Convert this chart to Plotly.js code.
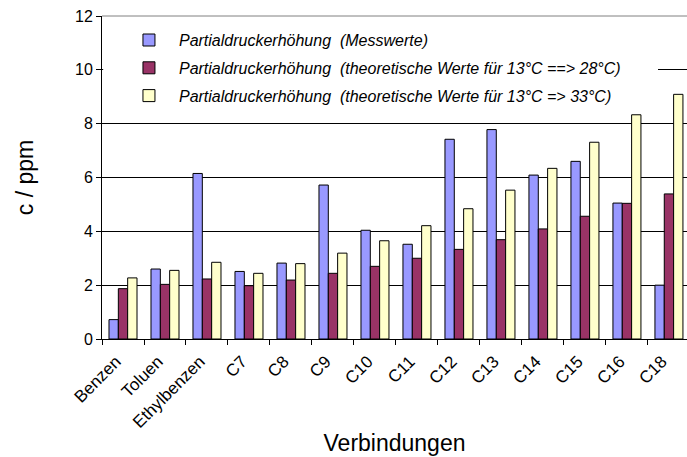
<!DOCTYPE html>
<html><head><meta charset="utf-8">
<script src="https://cdn.plot.ly/plotly-3.0.1.min.js"></script>
<style>body{margin:0;background:#fff}#c{width:687px;height:457px}</style>
</head><body><div id="c"></div>
<script>
const categories = ["Benzen","Toluen","Ethylbenzen","C7","C8","C9","C10","C11","C12","C13","C14","C15","C16","C18"];
const messwerte  = [0.72,2.60,6.15,2.51,2.82,5.72,4.04,3.52,7.42,7.78,6.09,6.60,5.05,2.00];
const theor28    = [1.87,2.03,2.23,1.98,2.19,2.44,2.70,3.00,3.33,3.69,4.09,4.56,5.04,5.39];
const theor33    = [2.27,2.55,2.85,2.44,2.80,3.19,3.65,4.21,4.84,5.53,6.34,7.31,8.33,9.09];
const names = [
  "Partialdruckerhöhung\u00a0 (Messwerte)",
  "Partialdruckerhöhung\u00a0 (theoretische Werte für 13°C ==> 28°C)",
  "Partialdruckerhöhung\u00a0 (theoretische Werte für 13°C => 33°C)"
];
const yTicks = [0,2,4,6,8,10,12];

const FONT = "Arial, 'Liberation Sans', sans-serif";
const colors = ["#9999FF","#993366","#FFFFCC"];
const series = [messwerte, theor28, theor33];
const traces = series.map((v,i)=>({
  type:"bar", x:categories, y:v, name:names[i], legendgroup:"g"+i,
  marker:{color:colors[i], line:{color:"#000", width:1}}
}));

const layout = {
  width:687, height:457,
  margin:{l:102, r:0, t:16, b:118},
  paper_bgcolor:"#fff", plot_bgcolor:"#fff",
  barmode:"group", bargap:0.333, bargroupgap:0,
  font:{family:FONT, color:"#000"},
  xaxis:{
    type:"category", range:[-0.5,13.43], tickson:"boundaries",
    ticks:"outside", ticklen:5, tickcolor:"#000", tickangle:-45,
    ticklabelshift:-7, ticklabelstandoff:5,
    tickfont:{size:17, family:FONT}, showline:true, linecolor:"#000", linewidth:1,
    showgrid:false, zeroline:false, automargin:false,
    title:{text:"Verbindungen", font:{size:23, family:FONT}, standoff:3}
  },
  yaxis:{
    range:[0,12], tickvals:yTicks, ticks:"outside", ticklen:5, tickcolor:"#000",
    tickfont:{size:16, family:FONT}, showline:true, linecolor:"#000", linewidth:1,
    showgrid:true, gridcolor:"#000", gridwidth:1, zeroline:false, automargin:false,
    title:{text:"c / ppm", font:{size:23, family:FONT}, standoff:34}
  },
  legend:{
    x:0.029, y:0.978, xanchor:"left", yanchor:"top",
    bgcolor:"rgba(0,0,0,0)", borderwidth:0, tracegroupgap:4, itemwidth:50,
    font:{size:16, family:FONT, style:"italic"}, traceorder:"grouped"
  },
  shapes:[
    {type:"rect", xref:"paper", yref:"y", x0:0.002, x1:(658-102)/585, y0:9.9, y1:10.1,
     fillcolor:"#fff", line:{width:0}, layer:"above"},
    {type:"line", xref:"paper", yref:"paper", x0:0, x1:1, y0:1, y1:1,
     line:{color:"#808080", width:1}, layer:"above"}
  ]
};
Plotly.newPlot("c", traces, layout, {displayModeBar:false, staticPlot:true});
</script></body></html>
